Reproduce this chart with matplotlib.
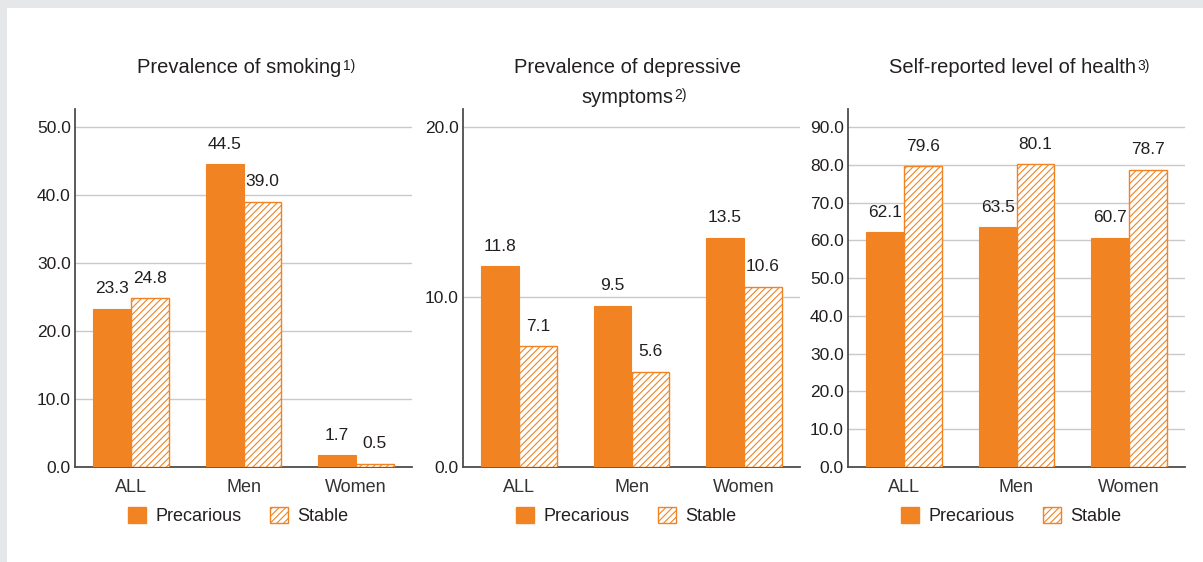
import matplotlib
matplotlib.use("Agg")
import matplotlib.pyplot as plt
import numpy as np
from matplotlib.patches import Patch, Rectangle

plt.rcParams["font.family"] = ["Liberation Sans", "DejaVu Sans"]
plt.rcParams["hatch.linewidth"] = 0.8

# data
categories = ["ALL", "Men", "Women"]
series_names = ["Precarious", "Stable"]

smoking_precarious = [23.3, 44.5, 1.7]
smoking_stable = [24.8, 39.0, 0.5]
smoking_ticks = [0, 10, 20, 30, 40, 50]

depress_precarious = [11.8, 9.5, 13.5]
depress_stable = [7.1, 5.6, 10.6]
depress_ticks = [0, 10, 20]

health_precarious = [62.1, 63.5, 60.7]
health_stable = [79.6, 80.1, 78.7]
health_ticks = [0, 10, 20, 30, 40, 50, 60, 70, 80, 90]

titles = [
    (["Prevalence of smoking"], "1)"),
    (["Prevalence of depressive", "symptoms"], "2)"),
    (["Self-reported level of health"], "3)"),
]

ORANGE = "#f28322"
TXT = "#231f20"
W, H = 1203, 562


def draw_panel(ax, prec, stab, ticks, ytop, title_lines, sup):
    x = np.arange(len(categories))
    w = 0.337
    b1 = ax.bar(x - w / 2, prec, w, color=ORANGE, edgecolor=ORANGE, linewidth=0.8, zorder=3)
    b2 = ax.bar(x + w / 2, stab, w, color="white", edgecolor=ORANGE, hatch="/////",
                linewidth=1.0, zorder=3)
    for bars, vals in ((b1, prec), (b2, stab)):
        for r, v in zip(bars, vals):
            ax.annotate(f"{v:.1f}", (r.get_x() + r.get_width() / 2, r.get_height()),
                        xytext=(0, 9), textcoords="offset points", ha="center",
                        va="bottom", fontsize=12.5, color=TXT)
    ax.set_xlim(-0.5, len(categories) - 0.5)
    ax.set_ylim(0, ytop)
    ax.set_yticks(ticks)
    ax.set_yticklabels([f"{t:.1f}" for t in ticks])
    ax.set_xticks(x)
    ax.set_xticklabels(categories)
    ax.tick_params(axis="y", length=0, pad=3, labelsize=12.5, labelcolor=TXT)
    ax.tick_params(axis="x", length=0, pad=9, labelsize=13, labelcolor="#333333")
    ax.yaxis.grid(True, color="#c9c9c9", linewidth=1.0, zorder=0)
    ax.set_axisbelow(True)
    for s in ("top", "right"):
        ax.spines[s].set_visible(False)
    for s in ("left", "bottom"):
        ax.spines[s].set_color("#4d4d4d")
        ax.spines[s].set_linewidth(1.3)

    # title, last line gets the superscript note
    t = None
    for i, line in enumerate(title_lines):
        t = ax.annotate(line, (0.5, 1.116 - i * 0.083), xycoords="axes fraction",
                        xytext=(-3, 0), textcoords="offset points",
                        ha="center", va="center", fontsize=14.5, color=TXT)
    ax.annotate(sup, (1, 1), xycoords=t, xytext=(1, -0.5), textcoords="offset points",
                ha="left", va="top", fontsize=10, color=TXT)

    handles = [Patch(facecolor=ORANGE, edgecolor=ORANGE),
               Patch(facecolor="white", edgecolor=ORANGE, hatch="/////")]
    ax.legend(handles, series_names, loc="center", bbox_to_anchor=(0.485, -0.137),
              ncol=2, frameon=False, fontsize=13, handlelength=1.0, handleheight=1.0,
              handletextpad=0.5, columnspacing=1.6, labelcolor=TXT)


fig = plt.figure(figsize=(W / 100, H / 100), dpi=100)
fig.patch.set_facecolor("#e6e7e9")
fig.add_artist(Rectangle((7 / W, 0), 1, (H - 8) / H, transform=fig.transFigure,
                         facecolor="white", edgecolor="none", zorder=-10))

bottom = 1 - 467 / H
height = (467 - 109) / H
panels = [
    (75, smoking_precarious, smoking_stable, smoking_ticks, 52.65),
    (463, depress_precarious, depress_stable, depress_ticks, 21.06),
    (848, health_precarious, health_stable, health_ticks, 94.76),
]
for (left, p, s, ticks, ytop), (tl, sup) in zip(panels, titles):
    ax = fig.add_axes([left / W, bottom, 337 / W, height])
    draw_panel(ax, p, s, ticks, ytop, tl, sup)

fig.savefig("out.png", dpi=100, facecolor=fig.get_facecolor())
